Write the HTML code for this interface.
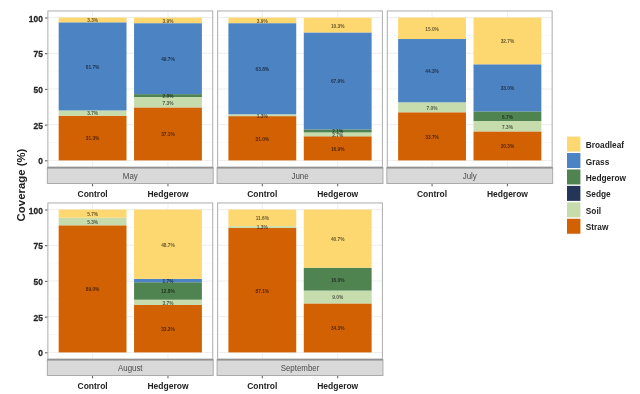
<!DOCTYPE html><html><head><meta charset="utf-8"><style>html,body{margin:0;padding:0;background:#fff;width:640px;height:394px;overflow:hidden}svg{display:block;filter:blur(0.55px)}text{font-family:"Liberation Sans",sans-serif}</style></head><body>
<svg width="640" height="394" viewBox="0 0 640 394">
<rect x="0" y="0" width="640" height="394" fill="#fff"/>
<g stroke="#F2F2F2" stroke-width="0.5">
<line x1="47.36" y1="142.55" x2="213.2" y2="142.55"/>
<line x1="47.36" y1="106.85" x2="213.2" y2="106.85"/>
<line x1="47.36" y1="71.15" x2="213.2" y2="71.15"/>
<line x1="47.36" y1="35.45" x2="213.2" y2="35.45"/>
</g><g stroke="#EEEEEE" stroke-width="1">
<line x1="47.36" y1="160.4" x2="213.2" y2="160.4"/>
<line x1="47.36" y1="124.7" x2="213.2" y2="124.7"/>
<line x1="47.36" y1="89" x2="213.2" y2="89"/>
<line x1="47.36" y1="53.3" x2="213.2" y2="53.3"/>
<line x1="47.36" y1="17.6" x2="213.2" y2="17.6"/>
<line x1="92.59" y1="10.46" x2="92.59" y2="167.54"/>
<line x1="167.97" y1="10.46" x2="167.97" y2="167.54"/>
</g>
<rect x="58.67" y="115.7" width="67.84" height="44.7" fill="#D26104"/>
<rect x="58.67" y="110.42" width="67.84" height="5.28" fill="#C6DCAC"/>
<rect x="58.67" y="22.31" width="67.84" height="88.11" fill="#4C83C2"/>
<rect x="58.67" y="17.6" width="67.84" height="4.71" fill="#FDD870"/>
<text transform="translate(92.59,140.45) scale(1,1.1)" font-size="4.8" font-weight="bold" text-anchor="middle" fill="#000" fill-opacity="0.62">31.3%</text>
<text transform="translate(92.59,115.46) scale(1,1.1)" font-size="4.8" font-weight="bold" text-anchor="middle" fill="#000" fill-opacity="0.62">3.7%</text>
<text transform="translate(92.59,68.77) scale(1,1.1)" font-size="4.8" font-weight="bold" text-anchor="middle" fill="#000" fill-opacity="0.62">61.7%</text>
<text transform="translate(92.59,22.36) scale(1,1.1)" font-size="4.8" font-weight="bold" text-anchor="middle" fill="#000" fill-opacity="0.62">3.3%</text>
<line x1="92.59" y1="183.5" x2="92.59" y2="186.3" stroke="#555" stroke-width="1"/>
<text transform="translate(92.59,196.7) scale(1,1.1)" font-size="8.5" font-weight="bold" text-anchor="middle" fill="#222">Control</text>
<rect x="134.05" y="107.42" width="67.84" height="52.98" fill="#D26104"/>
<rect x="134.05" y="97" width="67.84" height="10.42" fill="#C6DCAC"/>
<rect x="134.05" y="94.14" width="67.84" height="2.86" fill="#4F8451"/>
<rect x="134.05" y="23.17" width="67.84" height="70.97" fill="#4C83C2"/>
<rect x="134.05" y="17.6" width="67.84" height="5.57" fill="#FDD870"/>
<text transform="translate(167.97,136.31) scale(1,1.1)" font-size="4.8" font-weight="bold" text-anchor="middle" fill="#000" fill-opacity="0.62">37.1%</text>
<text transform="translate(167.97,104.61) scale(1,1.1)" font-size="4.8" font-weight="bold" text-anchor="middle" fill="#000" fill-opacity="0.62">7.3%</text>
<text transform="translate(167.97,97.97) scale(1,1.1)" font-size="4.8" font-weight="bold" text-anchor="middle" fill="#000" fill-opacity="0.62">2.0%</text>
<text transform="translate(167.97,61.06) scale(1,1.1)" font-size="4.8" font-weight="bold" text-anchor="middle" fill="#000" fill-opacity="0.62">49.7%</text>
<text transform="translate(167.97,22.79) scale(1,1.1)" font-size="4.8" font-weight="bold" text-anchor="middle" fill="#000" fill-opacity="0.62">3.9%</text>
<line x1="167.97" y1="183.5" x2="167.97" y2="186.3" stroke="#555" stroke-width="1"/>
<text transform="translate(167.97,196.7) scale(1,1.1)" font-size="8.5" font-weight="bold" text-anchor="middle" fill="#222">Hedgerow</text>
<rect x="47.86" y="10.96" width="164.84" height="156.08" fill="none" stroke="#B4B4B4" stroke-width="1.1"/>
<rect x="47.36" y="167.54" width="165.84" height="15.96" fill="#D9D9D9" stroke="#ABABAB" stroke-width="1"/>
<line x1="47.36" y1="167.84" x2="213.2" y2="167.84" stroke="#8A8A8A" stroke-width="1.4"/>
<text transform="translate(130.28,178.54) scale(1,1.1)" font-size="7.9" font-weight="normal" text-anchor="middle" fill="#4a4a4a">May</text>
<line x1="44.96" y1="160.8" x2="47.36" y2="160.8" stroke="#555" stroke-width="1"/>
<text transform="translate(42.86,164.43) scale(1,1.1)" font-size="8.4" font-weight="bold" text-anchor="end" fill="#222" stroke="#222" stroke-width="0.25">0</text>
<line x1="44.96" y1="125.1" x2="47.36" y2="125.1" stroke="#555" stroke-width="1"/>
<text transform="translate(42.86,128.73) scale(1,1.1)" font-size="8.4" font-weight="bold" text-anchor="end" fill="#222" stroke="#222" stroke-width="0.25">25</text>
<line x1="44.96" y1="89.4" x2="47.36" y2="89.4" stroke="#555" stroke-width="1"/>
<text transform="translate(42.86,93.03) scale(1,1.1)" font-size="8.4" font-weight="bold" text-anchor="end" fill="#222" stroke="#222" stroke-width="0.25">50</text>
<line x1="44.96" y1="53.7" x2="47.36" y2="53.7" stroke="#555" stroke-width="1"/>
<text transform="translate(42.86,57.33) scale(1,1.1)" font-size="8.4" font-weight="bold" text-anchor="end" fill="#222" stroke="#222" stroke-width="0.25">75</text>
<line x1="44.96" y1="18" x2="47.36" y2="18" stroke="#555" stroke-width="1"/>
<text transform="translate(42.86,21.63) scale(1,1.1)" font-size="8.4" font-weight="bold" text-anchor="end" fill="#222" stroke="#222" stroke-width="0.25">100</text>
<g stroke="#F2F2F2" stroke-width="0.5">
<line x1="217.09" y1="142.55" x2="382.93" y2="142.55"/>
<line x1="217.09" y1="106.85" x2="382.93" y2="106.85"/>
<line x1="217.09" y1="71.15" x2="382.93" y2="71.15"/>
<line x1="217.09" y1="35.45" x2="382.93" y2="35.45"/>
</g><g stroke="#EEEEEE" stroke-width="1">
<line x1="217.09" y1="160.4" x2="382.93" y2="160.4"/>
<line x1="217.09" y1="124.7" x2="382.93" y2="124.7"/>
<line x1="217.09" y1="89" x2="382.93" y2="89"/>
<line x1="217.09" y1="53.3" x2="382.93" y2="53.3"/>
<line x1="217.09" y1="17.6" x2="382.93" y2="17.6"/>
<line x1="262.32" y1="10.46" x2="262.32" y2="167.54"/>
<line x1="337.7" y1="10.46" x2="337.7" y2="167.54"/>
</g>
<rect x="228.4" y="116.13" width="67.84" height="44.27" fill="#D26104"/>
<rect x="228.4" y="114.28" width="67.84" height="1.86" fill="#C6DCAC"/>
<rect x="228.4" y="23.17" width="67.84" height="91.11" fill="#4C83C2"/>
<rect x="228.4" y="17.6" width="67.84" height="5.57" fill="#FDD870"/>
<text transform="translate(262.32,140.67) scale(1,1.1)" font-size="4.8" font-weight="bold" text-anchor="middle" fill="#000" fill-opacity="0.62">31.0%</text>
<text transform="translate(262.32,117.6) scale(1,1.1)" font-size="4.8" font-weight="bold" text-anchor="middle" fill="#000" fill-opacity="0.62">1.3%</text>
<text transform="translate(262.32,71.12) scale(1,1.1)" font-size="4.8" font-weight="bold" text-anchor="middle" fill="#000" fill-opacity="0.62">63.8%</text>
<text transform="translate(262.32,22.79) scale(1,1.1)" font-size="4.8" font-weight="bold" text-anchor="middle" fill="#000" fill-opacity="0.62">3.9%</text>
<line x1="262.32" y1="183.5" x2="262.32" y2="186.3" stroke="#555" stroke-width="1"/>
<text transform="translate(262.32,196.7) scale(1,1.1)" font-size="8.5" font-weight="bold" text-anchor="middle" fill="#222">Control</text>
<rect x="303.78" y="136.27" width="67.84" height="24.13" fill="#D26104"/>
<rect x="303.78" y="132.41" width="67.84" height="3.86" fill="#C6DCAC"/>
<rect x="303.78" y="129.41" width="67.84" height="3" fill="#4F8451"/>
<rect x="303.78" y="32.45" width="67.84" height="96.96" fill="#4C83C2"/>
<rect x="303.78" y="17.74" width="67.84" height="14.71" fill="#FDD870"/>
<text transform="translate(337.7,150.73) scale(1,1.1)" font-size="4.8" font-weight="bold" text-anchor="middle" fill="#000" fill-opacity="0.62">16.9%</text>
<text transform="translate(337.7,136.74) scale(1,1.1)" font-size="4.8" font-weight="bold" text-anchor="middle" fill="#000" fill-opacity="0.62">2.7%</text>
<text transform="translate(337.7,133.31) scale(1,1.1)" font-size="4.8" font-weight="bold" text-anchor="middle" fill="#000" fill-opacity="0.62">2.1%</text>
<text transform="translate(337.7,83.33) scale(1,1.1)" font-size="4.8" font-weight="bold" text-anchor="middle" fill="#000" fill-opacity="0.62">67.9%</text>
<text transform="translate(337.7,27.5) scale(1,1.1)" font-size="4.8" font-weight="bold" text-anchor="middle" fill="#000" fill-opacity="0.62">10.3%</text>
<line x1="337.7" y1="183.5" x2="337.7" y2="186.3" stroke="#555" stroke-width="1"/>
<text transform="translate(337.7,196.7) scale(1,1.1)" font-size="8.5" font-weight="bold" text-anchor="middle" fill="#222">Hedgerow</text>
<rect x="217.59" y="10.96" width="164.84" height="156.08" fill="none" stroke="#B4B4B4" stroke-width="1.1"/>
<rect x="217.09" y="167.54" width="165.84" height="15.96" fill="#D9D9D9" stroke="#ABABAB" stroke-width="1"/>
<line x1="217.09" y1="167.84" x2="382.93" y2="167.84" stroke="#8A8A8A" stroke-width="1.4"/>
<text transform="translate(300.01,178.54) scale(1,1.1)" font-size="7.9" font-weight="normal" text-anchor="middle" fill="#4a4a4a">June</text>
<g stroke="#F2F2F2" stroke-width="0.5">
<line x1="386.82" y1="142.55" x2="552.66" y2="142.55"/>
<line x1="386.82" y1="106.85" x2="552.66" y2="106.85"/>
<line x1="386.82" y1="71.15" x2="552.66" y2="71.15"/>
<line x1="386.82" y1="35.45" x2="552.66" y2="35.45"/>
</g><g stroke="#EEEEEE" stroke-width="1">
<line x1="386.82" y1="160.4" x2="552.66" y2="160.4"/>
<line x1="386.82" y1="124.7" x2="552.66" y2="124.7"/>
<line x1="386.82" y1="89" x2="552.66" y2="89"/>
<line x1="386.82" y1="53.3" x2="552.66" y2="53.3"/>
<line x1="386.82" y1="17.6" x2="552.66" y2="17.6"/>
<line x1="432.05" y1="10.46" x2="432.05" y2="167.54"/>
<line x1="507.43" y1="10.46" x2="507.43" y2="167.54"/>
</g>
<rect x="398.13" y="112.28" width="67.84" height="48.12" fill="#D26104"/>
<rect x="398.13" y="102.28" width="67.84" height="10" fill="#C6DCAC"/>
<rect x="398.13" y="39.02" width="67.84" height="63.26" fill="#4C83C2"/>
<rect x="398.13" y="17.6" width="67.84" height="21.42" fill="#FDD870"/>
<text transform="translate(432.05,138.74) scale(1,1.1)" font-size="4.8" font-weight="bold" text-anchor="middle" fill="#000" fill-opacity="0.62">33.7%</text>
<text transform="translate(432.05,109.68) scale(1,1.1)" font-size="4.8" font-weight="bold" text-anchor="middle" fill="#000" fill-opacity="0.62">7.0%</text>
<text transform="translate(432.05,73.05) scale(1,1.1)" font-size="4.8" font-weight="bold" text-anchor="middle" fill="#000" fill-opacity="0.62">44.3%</text>
<text transform="translate(432.05,30.71) scale(1,1.1)" font-size="4.8" font-weight="bold" text-anchor="middle" fill="#000" fill-opacity="0.62">15.0%</text>
<line x1="432.05" y1="183.5" x2="432.05" y2="186.3" stroke="#555" stroke-width="1"/>
<text transform="translate(432.05,196.7) scale(1,1.1)" font-size="8.5" font-weight="bold" text-anchor="middle" fill="#222">Control</text>
<rect x="473.51" y="131.41" width="67.84" height="28.99" fill="#D26104"/>
<rect x="473.51" y="120.99" width="67.84" height="10.42" fill="#C6DCAC"/>
<rect x="473.51" y="111.42" width="67.84" height="9.57" fill="#4F8451"/>
<rect x="473.51" y="64.3" width="67.84" height="47.12" fill="#4C83C2"/>
<rect x="473.51" y="17.6" width="67.84" height="46.7" fill="#FDD870"/>
<text transform="translate(507.43,148.31) scale(1,1.1)" font-size="4.8" font-weight="bold" text-anchor="middle" fill="#000" fill-opacity="0.62">20.3%</text>
<text transform="translate(507.43,128.6) scale(1,1.1)" font-size="4.8" font-weight="bold" text-anchor="middle" fill="#000" fill-opacity="0.62">7.3%</text>
<text transform="translate(507.43,118.6) scale(1,1.1)" font-size="4.8" font-weight="bold" text-anchor="middle" fill="#000" fill-opacity="0.62">6.7%</text>
<text transform="translate(507.43,90.26) scale(1,1.1)" font-size="4.8" font-weight="bold" text-anchor="middle" fill="#000" fill-opacity="0.62">33.0%</text>
<text transform="translate(507.43,43.35) scale(1,1.1)" font-size="4.8" font-weight="bold" text-anchor="middle" fill="#000" fill-opacity="0.62">32.7%</text>
<line x1="507.43" y1="183.5" x2="507.43" y2="186.3" stroke="#555" stroke-width="1"/>
<text transform="translate(507.43,196.7) scale(1,1.1)" font-size="8.5" font-weight="bold" text-anchor="middle" fill="#222">Hedgerow</text>
<rect x="387.32" y="10.96" width="164.84" height="156.08" fill="none" stroke="#B4B4B4" stroke-width="1.1"/>
<rect x="386.82" y="167.54" width="165.84" height="15.96" fill="#D9D9D9" stroke="#ABABAB" stroke-width="1"/>
<line x1="386.82" y1="167.84" x2="552.66" y2="167.84" stroke="#8A8A8A" stroke-width="1.4"/>
<text transform="translate(469.74,178.54) scale(1,1.1)" font-size="7.9" font-weight="normal" text-anchor="middle" fill="#4a4a4a">July</text>
<g stroke="#F2F2F2" stroke-width="0.5">
<line x1="47.36" y1="334.55" x2="213.2" y2="334.55"/>
<line x1="47.36" y1="298.85" x2="213.2" y2="298.85"/>
<line x1="47.36" y1="263.15" x2="213.2" y2="263.15"/>
<line x1="47.36" y1="227.45" x2="213.2" y2="227.45"/>
</g><g stroke="#EEEEEE" stroke-width="1">
<line x1="47.36" y1="352.4" x2="213.2" y2="352.4"/>
<line x1="47.36" y1="316.7" x2="213.2" y2="316.7"/>
<line x1="47.36" y1="281" x2="213.2" y2="281"/>
<line x1="47.36" y1="245.3" x2="213.2" y2="245.3"/>
<line x1="47.36" y1="209.6" x2="213.2" y2="209.6"/>
<line x1="92.59" y1="202.46" x2="92.59" y2="359.54"/>
<line x1="167.97" y1="202.46" x2="167.97" y2="359.54"/>
</g>
<rect x="58.67" y="225.31" width="67.84" height="127.09" fill="#D26104"/>
<rect x="58.67" y="217.74" width="67.84" height="7.57" fill="#C6DCAC"/>
<rect x="58.67" y="209.6" width="67.84" height="8.14" fill="#FDD870"/>
<text transform="translate(92.59,291.25) scale(1,1.1)" font-size="4.8" font-weight="bold" text-anchor="middle" fill="#000" fill-opacity="0.62">89.0%</text>
<text transform="translate(92.59,223.92) scale(1,1.1)" font-size="4.8" font-weight="bold" text-anchor="middle" fill="#000" fill-opacity="0.62">5.3%</text>
<text transform="translate(92.59,216.07) scale(1,1.1)" font-size="4.8" font-weight="bold" text-anchor="middle" fill="#000" fill-opacity="0.62">5.7%</text>
<line x1="92.59" y1="375.5" x2="92.59" y2="378.3" stroke="#555" stroke-width="1"/>
<text transform="translate(92.59,388.7) scale(1,1.1)" font-size="8.5" font-weight="bold" text-anchor="middle" fill="#222">Control</text>
<rect x="134.05" y="304.99" width="67.84" height="47.41" fill="#D26104"/>
<rect x="134.05" y="299.71" width="67.84" height="5.28" fill="#C6DCAC"/>
<rect x="134.05" y="282.29" width="67.84" height="17.42" fill="#4F8451"/>
<rect x="134.05" y="278.86" width="67.84" height="3.43" fill="#4C83C2"/>
<rect x="134.05" y="209.6" width="67.84" height="69.26" fill="#FDD870"/>
<text transform="translate(167.97,331.1) scale(1,1.1)" font-size="4.8" font-weight="bold" text-anchor="middle" fill="#000" fill-opacity="0.62">33.2%</text>
<text transform="translate(167.97,304.75) scale(1,1.1)" font-size="4.8" font-weight="bold" text-anchor="middle" fill="#000" fill-opacity="0.62">3.7%</text>
<text transform="translate(167.97,293.4) scale(1,1.1)" font-size="4.8" font-weight="bold" text-anchor="middle" fill="#000" fill-opacity="0.62">12.8%</text>
<text transform="translate(167.97,282.97) scale(1,1.1)" font-size="4.8" font-weight="bold" text-anchor="middle" fill="#000" fill-opacity="0.62">1.7%</text>
<text transform="translate(167.97,246.63) scale(1,1.1)" font-size="4.8" font-weight="bold" text-anchor="middle" fill="#000" fill-opacity="0.62">48.7%</text>
<line x1="167.97" y1="375.5" x2="167.97" y2="378.3" stroke="#555" stroke-width="1"/>
<text transform="translate(167.97,388.7) scale(1,1.1)" font-size="8.5" font-weight="bold" text-anchor="middle" fill="#222">Hedgerow</text>
<rect x="47.86" y="202.96" width="164.84" height="156.08" fill="none" stroke="#B4B4B4" stroke-width="1.1"/>
<rect x="47.36" y="359.54" width="165.84" height="15.96" fill="#D9D9D9" stroke="#ABABAB" stroke-width="1"/>
<line x1="47.36" y1="359.84" x2="213.2" y2="359.84" stroke="#8A8A8A" stroke-width="1.4"/>
<text transform="translate(130.28,370.54) scale(1,1.1)" font-size="7.9" font-weight="normal" text-anchor="middle" fill="#4a4a4a">August</text>
<line x1="44.96" y1="352.8" x2="47.36" y2="352.8" stroke="#555" stroke-width="1"/>
<text transform="translate(42.86,356.43) scale(1,1.1)" font-size="8.4" font-weight="bold" text-anchor="end" fill="#222" stroke="#222" stroke-width="0.25">0</text>
<line x1="44.96" y1="317.1" x2="47.36" y2="317.1" stroke="#555" stroke-width="1"/>
<text transform="translate(42.86,320.73) scale(1,1.1)" font-size="8.4" font-weight="bold" text-anchor="end" fill="#222" stroke="#222" stroke-width="0.25">25</text>
<line x1="44.96" y1="281.4" x2="47.36" y2="281.4" stroke="#555" stroke-width="1"/>
<text transform="translate(42.86,285.03) scale(1,1.1)" font-size="8.4" font-weight="bold" text-anchor="end" fill="#222" stroke="#222" stroke-width="0.25">50</text>
<line x1="44.96" y1="245.7" x2="47.36" y2="245.7" stroke="#555" stroke-width="1"/>
<text transform="translate(42.86,249.33) scale(1,1.1)" font-size="8.4" font-weight="bold" text-anchor="end" fill="#222" stroke="#222" stroke-width="0.25">75</text>
<line x1="44.96" y1="210" x2="47.36" y2="210" stroke="#555" stroke-width="1"/>
<text transform="translate(42.86,213.63) scale(1,1.1)" font-size="8.4" font-weight="bold" text-anchor="end" fill="#222" stroke="#222" stroke-width="0.25">100</text>
<g stroke="#F2F2F2" stroke-width="0.5">
<line x1="217.09" y1="334.55" x2="382.93" y2="334.55"/>
<line x1="217.09" y1="298.85" x2="382.93" y2="298.85"/>
<line x1="217.09" y1="263.15" x2="382.93" y2="263.15"/>
<line x1="217.09" y1="227.45" x2="382.93" y2="227.45"/>
</g><g stroke="#EEEEEE" stroke-width="1">
<line x1="217.09" y1="352.4" x2="382.93" y2="352.4"/>
<line x1="217.09" y1="316.7" x2="382.93" y2="316.7"/>
<line x1="217.09" y1="281" x2="382.93" y2="281"/>
<line x1="217.09" y1="245.3" x2="382.93" y2="245.3"/>
<line x1="217.09" y1="209.6" x2="382.93" y2="209.6"/>
<line x1="262.32" y1="202.46" x2="262.32" y2="359.54"/>
<line x1="337.7" y1="202.46" x2="337.7" y2="359.54"/>
</g>
<rect x="228.4" y="228.02" width="67.84" height="124.38" fill="#D26104"/>
<rect x="228.4" y="226.16" width="67.84" height="1.86" fill="#C6DCAC"/>
<rect x="228.4" y="209.6" width="67.84" height="16.56" fill="#FDD870"/>
<text transform="translate(262.32,292.61) scale(1,1.1)" font-size="4.8" font-weight="bold" text-anchor="middle" fill="#000" fill-opacity="0.62">87.1%</text>
<text transform="translate(262.32,229.49) scale(1,1.1)" font-size="4.8" font-weight="bold" text-anchor="middle" fill="#000" fill-opacity="0.62">1.3%</text>
<text transform="translate(262.32,220.28) scale(1,1.1)" font-size="4.8" font-weight="bold" text-anchor="middle" fill="#000" fill-opacity="0.62">11.6%</text>
<line x1="262.32" y1="375.5" x2="262.32" y2="378.3" stroke="#555" stroke-width="1"/>
<text transform="translate(262.32,388.7) scale(1,1.1)" font-size="8.5" font-weight="bold" text-anchor="middle" fill="#222">Control</text>
<rect x="303.78" y="303.42" width="67.84" height="48.98" fill="#D26104"/>
<rect x="303.78" y="290.57" width="67.84" height="12.85" fill="#C6DCAC"/>
<rect x="303.78" y="267.72" width="67.84" height="22.85" fill="#4F8451"/>
<rect x="303.78" y="209.6" width="67.84" height="58.12" fill="#FDD870"/>
<text transform="translate(337.7,330.31) scale(1,1.1)" font-size="4.8" font-weight="bold" text-anchor="middle" fill="#000" fill-opacity="0.62">34.3%</text>
<text transform="translate(337.7,299.39) scale(1,1.1)" font-size="4.8" font-weight="bold" text-anchor="middle" fill="#000" fill-opacity="0.62">9.0%</text>
<text transform="translate(337.7,281.54) scale(1,1.1)" font-size="4.8" font-weight="bold" text-anchor="middle" fill="#000" fill-opacity="0.62">16.0%</text>
<text transform="translate(337.7,241.06) scale(1,1.1)" font-size="4.8" font-weight="bold" text-anchor="middle" fill="#000" fill-opacity="0.62">40.7%</text>
<line x1="337.7" y1="375.5" x2="337.7" y2="378.3" stroke="#555" stroke-width="1"/>
<text transform="translate(337.7,388.7) scale(1,1.1)" font-size="8.5" font-weight="bold" text-anchor="middle" fill="#222">Hedgerow</text>
<rect x="217.59" y="202.96" width="164.84" height="156.08" fill="none" stroke="#B4B4B4" stroke-width="1.1"/>
<rect x="217.09" y="359.54" width="165.84" height="15.96" fill="#D9D9D9" stroke="#ABABAB" stroke-width="1"/>
<line x1="217.09" y1="359.84" x2="382.93" y2="359.84" stroke="#8A8A8A" stroke-width="1.4"/>
<text transform="translate(300.01,370.54) scale(1,1.1)" font-size="7.9" font-weight="normal" text-anchor="middle" fill="#4a4a4a">September</text>
<text x="0" y="0" font-size="11.4" font-weight="bold" text-anchor="middle" fill="#222" transform="translate(25.4,185) rotate(-90)">Coverage (%)</text>
<rect x="567" y="136.6" width="13.4" height="15" fill="#FDD870"/>
<text transform="translate(585.8,148.09) scale(1,1.1)" font-size="8.3" font-weight="bold" text-anchor="start" fill="#222">Broadleaf</text>
<rect x="567" y="153.03" width="13.4" height="15" fill="#4C83C2"/>
<text transform="translate(585.8,164.52) scale(1,1.1)" font-size="8.3" font-weight="bold" text-anchor="start" fill="#222">Grass</text>
<rect x="567" y="169.46" width="13.4" height="15" fill="#4F8451"/>
<text transform="translate(585.8,180.95) scale(1,1.1)" font-size="8.3" font-weight="bold" text-anchor="start" fill="#222">Hedgerow</text>
<rect x="567" y="185.89" width="13.4" height="15" fill="#25355A"/>
<text transform="translate(585.8,197.38) scale(1,1.1)" font-size="8.3" font-weight="bold" text-anchor="start" fill="#222">Sedge</text>
<rect x="567" y="202.32" width="13.4" height="15" fill="#C6DCAC"/>
<text transform="translate(585.8,213.81) scale(1,1.1)" font-size="8.3" font-weight="bold" text-anchor="start" fill="#222">Soil</text>
<rect x="567" y="218.75" width="13.4" height="15" fill="#D26104"/>
<text transform="translate(585.8,230.24) scale(1,1.1)" font-size="8.3" font-weight="bold" text-anchor="start" fill="#222">Straw</text>
</svg></body></html>
